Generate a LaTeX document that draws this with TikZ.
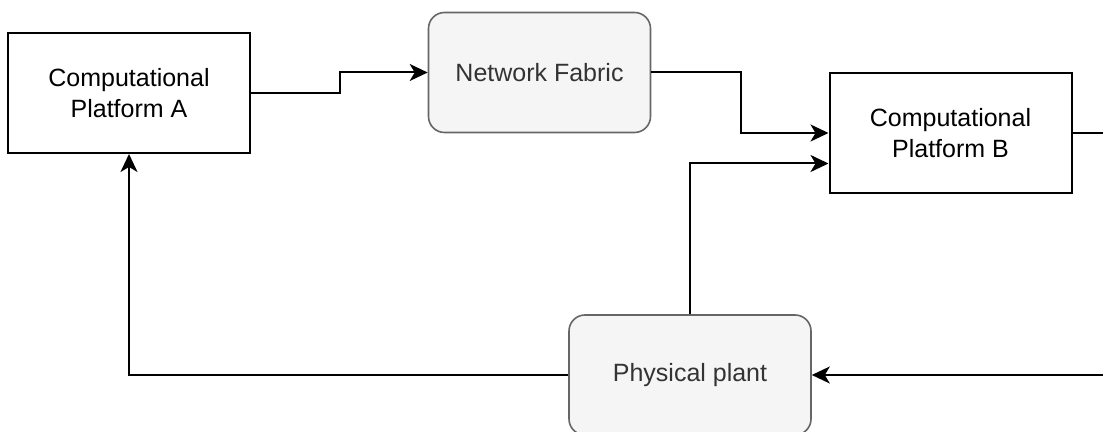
\documentclass[tikz,border=0pt]{standalone}
\usepackage{fontspec}
\setmainfont{Liberation Sans}
\usetikzlibrary{arrows.meta,calc}
\definecolor{softfill}{HTML}{F5F5F5}
\definecolor{softline}{HTML}{666666}
\definecolor{softtext}{HTML}{333333}
\begin{document}
\begin{tikzpicture}[x=0.5pt,y=-0.5pt,
  platform/.style={draw=black, line width=1pt, fill=white, minimum width=121pt, minimum height=60pt,
    align=center, font=\fontsize{12.5}{15.5}\selectfont, inner sep=0pt},
  softbox/.style={draw=softline, line width=0.8pt, fill=softfill, rounded corners=8pt,
    minimum height=60pt, align=center, text=softtext, font=\fontsize{12.5}{15.5}\selectfont, inner sep=0pt},
  conn/.style={draw=black, line width=1pt, -{Stealth[length=9pt,width=8.5pt,inset=2.5pt]}}]
\useasboundingbox (0,0) rectangle (1103,432);
\clip (0,0) rectangle (1103,432);
\node[platform] (A) at (129,93) {Computational\\Platform A};
\node[softbox, minimum width=111pt] (NF) at (539.5,72.5) {Network Fabric};
\node[platform] (B) at (950.5,133) {Computational\\Platform B};
\node[softbox, minimum width=121pt] (P) at (690,375) {Physical plant};
\coordinate (Bin) at ($(B.north west)!0.75!(B.south west)$);
\draw[conn] (A.east) -- ++(89,0) |- (NF.west);
\draw[conn] (NF.east) -- ++(90,0) |- (B.west);
\draw[conn] (P.north) |- (Bin);
\draw[conn] (B.east) -- ++(42,0) |- (P.east);
\draw[conn] (P.west) -| (A.south);
\end{tikzpicture}
\end{document}
